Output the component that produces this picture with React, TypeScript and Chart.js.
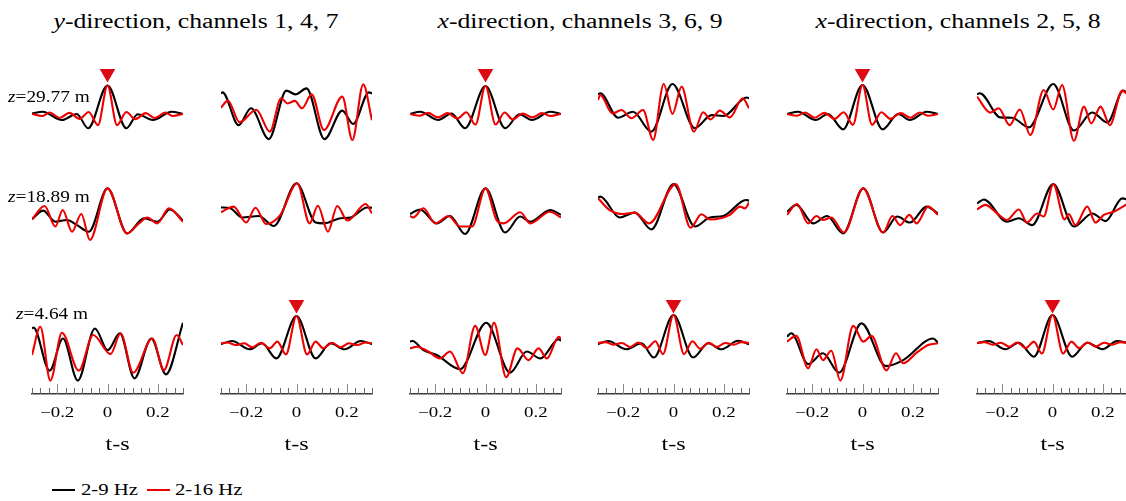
import React, { useEffect, useRef } from 'react';
import { Chart, registerables } from 'chart.js';

Chart.register(...registerables);

type P = [number, number];

// ---------- text ----------
const titleAxis = ['y', 'x', 'x'];
const titleRest = ['-direction, channels 1, 4, 7', '-direction, channels 3, 6, 9', '-direction, channels 2, 5, 8'];
const depthLabels = ['29.77', '18.89', '4.64'];
const legendLabels = ['2-9 Hz', '2-16 Hz'];
const xTitle = 't-s';
const xTickValues = [-0.3, -0.26667, -0.23333, -0.2, -0.16667, -0.13333, -0.1, -0.06667, -0.03333, 0, 0.03333, 0.06667, 0.1, 0.13333, 0.16667, 0.2, 0.23333, 0.26667, 0.3];
const xLabelValues = [-0.2, 0, 0.2];
const xLabelTexts = ['\u22120.2', '0', '0.2'];

// ---------- data: [t (s), amplitude] ----------
// row 1 (z = 29.77 m)
const r1c1Black: P[] = [[-0.3, 0.02], [-0.258, 0.08], [-0.181, -0.21], [-0.122, 0], [-0.077, -0.5], [0, 1.0], [0.075, -0.5], [0.12, -0.01], [0.18, -0.21], [0.255, 0.08], [0.3, 0]];
const r1c1Red: P[] = [[-0.3, 0], [-0.26, -0.07], [-0.23, 0.05], [-0.19, -0.14], [-0.152, 0.04], [-0.11, -0.17], [-0.075, 0.07], [-0.038, -0.39], [0, 1.0], [0.038, -0.39], [0.075, 0.07], [0.11, -0.18], [0.152, 0.03], [0.188, -0.14], [0.23, 0.05], [0.26, -0.07], [0.3, 0]];
const r1c2Black: P[] = [[-0.3, 0.72], [-0.294, 0.76], [-0.23, -0.39], [-0.181, 0.2], [-0.11, -0.88], [-0.04, 0.82], [-0.004, 0.69], [0.04, 0.9], [0.111, -0.88], [0.182, 0.12], [0.225, -0.35], [0.288, 0.76], [0.3, 0.72]];
const r1c2Red: P[] = [[-0.3, 0.22], [-0.273, 0.47], [-0.226, -0.29], [-0.16, 0.15], [-0.106, -0.62], [-0.061, 0.55], [-0.035, 0.37], [-0.007, 0.46], [0.022, 0.2], [0.06, 0.69], [0.109, -0.56], [0.182, 0.61], [0.222, -0.91], [0.265, 1.04], [0.3, -0.22]];
const r1c3Black: P[] = [[-0.3, 0], [-0.26, 0.08], [-0.187, -0.21], [-0.135, 0.02], [-0.081, -0.5], [0, 0.98], [0.078, -0.5], [0.135, -0.01], [0.184, -0.21], [0.257, 0.08], [0.3, 0]];
const r1c3Red: P[] = [[-0.3, 0], [-0.262, -0.06], [-0.228, 0.04], [-0.19, -0.12], [-0.15, 0.03], [-0.112, -0.16], [-0.076, 0.06], [-0.04, -0.37], [0, 0.98], [0.04, -0.37], [0.076, 0.05], [0.108, -0.19], [0.148, 0.02], [0.185, -0.12], [0.225, 0.03], [0.258, -0.07], [0.3, 0]];
const r1c4Black: P[] = [[-0.3, 0.69], [-0.291, 0.73], [-0.22, -0.13], [-0.161, 0.08], [-0.088, -0.62], [-0.004, 1.05], [0.085, -0.5], [0.151, -0.04], [0.198, -0.07], [0.291, 0.58], [0.3, 0.55]];
const r1c4Red: P[] = [[-0.3, 0.49], [-0.291, 0.67], [-0.243, 0.02], [-0.207, 0.14], [-0.167, -0.15], [-0.121, 0.14], [-0.081, -0.91], [-0.039, 1.05], [-0.004, 0], [0.032, 0.96], [0.081, -0.62], [0.118, 0.06], [0.147, -0.19], [0.184, 0.12], [0.224, -0.12], [0.275, 0.55], [0.3, 0.2]];
const r1c5Black: P[] = [[-0.3, 0], [-0.256, 0.08], [-0.186, -0.21], [-0.137, 0], [-0.077, -0.54], [0, 1.02], [0.08, -0.54], [0.142, 0], [0.188, -0.21], [0.255, 0.08], [0.3, 0]];
const r1c5Red: P[] = [[-0.3, 0], [-0.26, -0.06], [-0.228, 0.05], [-0.19, -0.13], [-0.152, 0.04], [-0.11, -0.17], [-0.075, 0.06], [-0.038, -0.38], [0, 1.02], [0.038, -0.38], [0.075, 0.06], [0.11, -0.17], [0.152, 0.03], [0.19, -0.13], [0.228, 0.05], [0.26, -0.06], [0.3, 0]];
const r1c6Black: P[] = [[-0.3, 0.69], [-0.289, 0.73], [-0.207, -0.12], [-0.161, -0.13], [-0.094, -0.47], [0.003, 1.05], [0.085, -0.58], [0.158, 0.05], [0.218, -0.3], [0.281, 0.82], [0.3, 0.73]];
const r1c6Red: P[] = [[-0.3, 0.61], [-0.247, 0.05], [-0.214, 0.2], [-0.17, -0.39], [-0.13, 0.16], [-0.088, -0.74], [-0.035, 0.84], [0.003, 0.16], [0.038, 1.02], [0.085, -0.94], [0.125, 0.26], [0.154, -0.33], [0.191, 0.26], [0.228, -0.39], [0.277, 0.82], [0.3, 0.66]];
// row 2 (z = 18.89 m)
const r2c1Black: P[] = [[-0.3, -0.11], [-0.256, 0.19], [-0.207, -0.2], [-0.161, -0.14], [-0.121, -0.32], [-0.074, -0.55], [0, 0.97], [0.078, -0.61], [0.145, -0.08], [0.198, -0.2], [0.248, 0.23], [0.3, -0.16]];
const r2c1Red: P[] = [[-0.3, -0.12], [-0.25, 0.35], [-0.207, -0.37], [-0.178, 0.21], [-0.141, -0.55], [-0.104, 0.07], [-0.07, -0.84], [0, 0.97], [0.078, -0.61], [0.125, -0.26], [0.158, -0.05], [0.198, -0.26], [0.244, 0.27], [0.3, -0.2]];
const r2c2Black: P[] = [[-0.3, 0.3], [-0.263, 0.27], [-0.216, -0.05], [-0.15, 0], [-0.09, -0.35], [0, 1.15], [0.076, -0.23], [0.109, -0.26], [0.175, -0.08], [0.215, -0.05], [0.281, 0.3], [0.3, 0.29]];
const r2c2Red: P[] = [[-0.3, 0.13], [-0.25, 0.33], [-0.2, -0.23], [-0.163, 0.29], [-0.121, -0.28], [-0.064, 0.04], [0.003, 1.15], [0.052, -0.26], [0.085, 0.36], [0.125, -0.55], [0.162, 0.35], [0.202, -0.16], [0.275, 0.42], [0.3, 0.09]];
const r2c3Black: P[] = [[-0.3, 0.07], [-0.26, 0.23], [-0.194, -0.26], [-0.141, 0], [-0.081, -0.63], [0, 0.97], [0.078, -0.58], [0.138, -0.02], [0.178, -0.2], [0.257, 0.21], [0.3, 0.04]];
const r2c3Red: P[] = [[-0.3, 0], [-0.287, -0.05], [-0.247, 0.27], [-0.2, -0.26], [-0.147, 0], [-0.101, -0.37], [-0.054, -0.37], [0, 0.97], [0.045, -0.16], [0.072, -0.26], [0.138, 0.13], [0.178, -0.26], [0.255, 0.15], [0.3, -0.05]];
const r2c4Black: P[] = [[-0.3, 0.65], [-0.291, 0.68], [-0.214, -0.05], [-0.154, 0.12], [-0.088, -0.47], [0, 1.12], [0.085, -0.37], [0.145, -0.05], [0.198, 0], [0.288, 0.56], [0.3, 0.54]];
const r2c4Red: P[] = [[-0.3, 0.62], [-0.254, 0.21], [-0.2, 0.07], [-0.154, 0.12], [-0.097, -0.26], [0.009, 1.12], [0.068, -0.41], [0.111, 0.06], [0.145, -0.12], [0.224, 0.04], [0.264, 0.33], [0.284, 0.27], [0.3, 0.47]];
const r2c5Black: P[] = [[-0.3, 0.15], [-0.263, 0.39], [-0.196, -0.26], [-0.141, 0], [-0.077, -0.61], [0.003, 0.97], [0.082, -0.58], [0.138, -0.02], [0.188, -0.23], [0.255, 0.33], [0.3, 0.09]];
const r2c5Red: P[] = [[-0.3, 0.04], [-0.26, 0.42], [-0.216, -0.26], [-0.183, 0], [-0.157, -0.14], [-0.124, -0.05], [-0.074, -0.58], [0.003, 0.97], [0.082, -0.58], [0.119, 0], [0.149, -0.32], [0.186, 0.04], [0.215, -0.26], [0.261, 0.33], [0.3, 0.04]];
const r2c6Black: P[] = [[-0.3, 0.44], [-0.273, 0.58], [-0.181, -0.2], [-0.134, -0.08], [-0.081, -0.32], [0.003, 1.12], [0.085, -0.37], [0.158, 0.09], [0.211, -0.18], [0.277, 0.62], [0.3, 0.56]];
const r2c6Red: P[] = [[-0.3, 0.23], [-0.267, 0.39], [-0.22, 0.09], [-0.181, -0.14], [-0.134, 0.23], [-0.101, -0.23], [-0.061, 0.09], [-0.035, -0.02], [0.003, 1.12], [0.048, -0.12], [0.065, 0.07], [0.091, -0.32], [0.138, 0.33], [0.171, -0.23], [0.204, 0.04], [0.244, 0.15], [0.3, 0.44]];
// row 3 (z = 4.64 m)
const r3c1Black: P[] = [[-0.3, 0.52], [-0.294, 0.54], [-0.23, -0.97], [-0.177, 0.16], [-0.118, -1.32], [-0.05, 0.51], [0.001, -0.25], [0.049, 0.34], [0.107, -1.24], [0.174, 0.16], [0.232, -1.1], [0.3, 0.71]];
const r3c1Red: P[] = [[-0.3, -0.42], [-0.267, 0.57], [-0.227, -1.32], [-0.181, 0.36], [-0.114, -0.97], [-0.057, 0.28], [0.012, -0.39], [0.052, 0.34], [0.102, -1.04], [0.178, 0.16], [0.224, -0.95], [0.275, 0.28], [0.3, -0.07]];
const r3c2Black: P[] = [[-0.3, -0.04], [-0.256, 0.07], [-0.186, -0.22], [-0.137, -0.01], [-0.08, -0.54], [0, 0.95], [0.076, -0.54], [0.135, -0.01], [0.191, -0.22], [0.255, 0.07], [0.3, -0.04]];
const r3c2Red: P[] = [[-0.3, -0.01], [-0.275, 0.02], [-0.241, -0.07], [-0.208, -0.01], [-0.175, -0.15], [-0.142, 0.01], [-0.106, -0.19], [-0.076, 0.05], [-0.042, -0.4], [0, 0.95], [0.042, -0.4], [0.076, 0.05], [0.106, -0.19], [0.142, 0.01], [0.175, -0.15], [0.208, -0.01], [0.241, -0.07], [0.275, 0.02], [0.3, -0.01]];
const r3c3Black: P[] = [[-0.3, 0.05], [-0.29, 0.07], [-0.247, -0.25], [-0.194, -0.42], [-0.101, -0.92], [0.003, 0.71], [0.098, -1.04], [0.164, -0.3], [0.218, -0.54], [0.291, 0.13], [0.3, 0.08]];
const r3c3Red: P[] = [[-0.3, -0.19], [-0.273, -0.13], [-0.227, -0.3], [-0.181, -0.54], [-0.141, -0.3], [-0.09, -1.06], [-0.041, 0.6], [-0.001, -0.42], [0.034, 0.71], [0.082, -1.2], [0.127, -0.19], [0.171, -0.6], [0.211, -0.19], [0.244, -0.54], [0.291, 0.22], [0.3, 0.16]];
const r3c4Black: P[] = [[-0.3, -0.04], [-0.26, 0.07], [-0.187, -0.22], [-0.127, -0.01], [-0.078, -0.51], [0, 0.98], [0.078, -0.51], [0.138, -0.01], [0.191, -0.22], [0.257, 0.08], [0.3, -0.04]];
const r3c4Red: P[] = [[-0.3, 0], [-0.27, 0.03], [-0.24, -0.06], [-0.205, 0], [-0.172, -0.14], [-0.14, 0.02], [-0.106, -0.18], [-0.072, 0.06], [-0.042, -0.39], [0, 0.98], [0.042, -0.39], [0.075, 0.06], [0.106, -0.2], [0.14, 0.01], [0.172, -0.14], [0.205, 0], [0.24, -0.06], [0.27, 0.03], [0.3, 0]];
const r3c5Black: P[] = [[-0.3, 0.22], [-0.283, 0.34], [-0.216, -0.74], [-0.157, -0.36], [-0.093, -1.04], [-0.004, 0.69], [0.093, -0.81], [0.162, -0.6], [0.281, 0.16], [0.3, 0.01]];
const r3c5Red: P[] = [[-0.3, 0.05], [-0.263, 0.25], [-0.216, -0.89], [-0.183, -0.22], [-0.157, -0.6], [-0.124, -0.27], [-0.088, -1.32], [-0.037, 0.6], [0.003, 0.05], [0.036, 0.25], [0.095, -0.96], [0.133, -0.36], [0.162, -0.71], [0.215, -0.34], [0.261, -0.07], [0.3, -0.01]];
const r3c6Black: P[] = [[-0.3, -0.01], [-0.254, 0.07], [-0.187, -0.22], [-0.134, 0.01], [-0.074, -0.48], [0, 0.98], [0.078, -0.48], [0.138, 0.01], [0.198, -0.22], [0.257, 0.07], [0.3, -0.01]];
const r3c6Red: P[] = [[-0.3, 0], [-0.27, 0.03], [-0.238, -0.06], [-0.205, 0.01], [-0.172, -0.13], [-0.14, 0.02], [-0.106, -0.18], [-0.074, 0.05], [-0.042, -0.37], [0, 0.98], [0.042, -0.37], [0.075, 0.05], [0.106, -0.18], [0.14, 0.02], [0.172, -0.13], [0.205, 0.01], [0.238, -0.06], [0.27, 0.03], [0.3, 0]];
// reference-channel markers (t, amplitude)
const markerTop: P[] = [[0, 1.42]];
const markerBottom: P[] = [[0, 1.35]];

// ---------- layout / style ----------
const FONT = '"Liberation Serif", "Times New Roman", serif';
const BLACK = '#000000';
const RED = '#ee0000';
const MARK = '#dd0a14';
const COL_LEFT = [32, 221, 410, 598, 787, 977];
const COL_TITLE_SHIFT = [10, 0, 0, 0, 0, 0];
const COL_W = 151;
const PADX = 6;
const TOP = 50;
const AXIS_Y = 394;
const AXIS_H = 67;
const TICK_LABEL_BASE = 417;
const X_TITLE_BASE = 450;
const ROW_BASE = [114, 216, 343];
const PX_PER_UNIT = 28.5;
const TITLE_STRETCH = 1.255;
const LABEL_STRETCH = 1.17;
const TICK_STRETCH = 1.3;
const XTITLE_STRETCH = 1.24;

interface ColumnDef {
  rows: { black: P[]; red: P[] }[];
  markerRow: number;
  marker: P[];
}

const columns: ColumnDef[] = [
  { rows: [{ black: r1c1Black, red: r1c1Red }, { black: r2c1Black, red: r2c1Red }, { black: r3c1Black, red: r3c1Red }], markerRow: 0, marker: markerTop },
  { rows: [{ black: r1c2Black, red: r1c2Red }, { black: r2c2Black, red: r2c2Red }, { black: r3c2Black, red: r3c2Red }], markerRow: 2, marker: markerBottom },
  { rows: [{ black: r1c3Black, red: r1c3Red }, { black: r2c3Black, red: r2c3Red }, { black: r3c3Black, red: r3c3Red }], markerRow: 0, marker: markerTop },
  { rows: [{ black: r1c4Black, red: r1c4Red }, { black: r2c4Black, red: r2c4Red }, { black: r3c4Black, red: r3c4Red }], markerRow: 2, marker: markerBottom },
  { rows: [{ black: r1c5Black, red: r1c5Red }, { black: r2c5Black, red: r2c5Red }, { black: r3c5Black, red: r3c5Red }], markerRow: 0, marker: markerTop },
  { rows: [{ black: r1c6Black, red: r1c6Red }, { black: r2c6Black, red: r2c6Red }, { black: r3c6Black, red: r3c6Red }], markerRow: 2, marker: markerBottom },
];

const toXY = (arr: P[]) => arr.map(([x, y]) => ({ x, y }));
const isMajor = (v: number) => xLabelValues.some((m) => Math.abs(m - v) < 1e-4);

// inward tick marks, tick labels and axis title, placed with the x scale
const innerTicks = {
  id: 'innerTicks',
  afterDraw(chart: any, _args: any, opts: any) {
    const s = chart.scales.x;
    const ctx = chart.ctx;
    const y0 = chart.chartArea.bottom;
    ctx.save();
    ctx.lineWidth = 1;
    s.ticks.forEach((t: any) => {
      const major = isMajor(t.value);
      const px = Math.round(s.getPixelForValue(t.value)) + 0.5;
      ctx.strokeStyle = major ? '#8a8a8a' : '#6a6a6a';
      ctx.beginPath();
      ctx.moveTo(px, y0);
      ctx.lineTo(px, y0 - (major ? 10 : 6));
      ctx.stroke();
    });
    ctx.fillStyle = '#000';
    ctx.textAlign = 'center';
    ctx.textBaseline = 'alphabetic';
    ctx.font = `14.5px ${FONT}`;
    xLabelValues.forEach((v, i) => {
      const px = s.getPixelForValue(v);
      ctx.save();
      ctx.translate(px, TICK_LABEL_BASE - TOP);
      ctx.scale(TICK_STRETCH, 1);
      ctx.fillText(xLabelTexts[i], 0, 0);
      ctx.restore();
    });
    ctx.font = `19.5px ${FONT}`;
    ctx.save();
    ctx.translate((s.left + s.right) / 2 + (opts.shift || 0), X_TITLE_BASE - TOP);
    ctx.scale(XTITLE_STRETCH, 1);
    ctx.fillText(xTitle, 0, 0);
    ctx.restore();
    ctx.restore();
  },
};

function ColumnChart({ col, left, shift }: { col: ColumnDef; left: number; shift: number }) {
  const ref = useRef<HTMLCanvasElement>(null);
  useEffect(() => {
    if (!ref.current) return;
    const datasets: any[] = [];
    col.rows.forEach((pair, r) => {
      datasets.push({
        data: toXY(pair.red), borderColor: RED, borderWidth: 2.1, pointRadius: 0,
        cubicInterpolationMode: 'monotone', yAxisID: 'y' + r, order: 1, fill: false,
      });
      datasets.push({
        data: toXY(pair.black), borderColor: BLACK, borderWidth: 2.1, pointRadius: 0,
        cubicInterpolationMode: 'monotone', yAxisID: 'y' + r, order: 2, fill: false,
      });
    });
    datasets.push({
      data: toXY(col.marker), yAxisID: 'y' + col.markerRow, showLine: false,
      pointStyle: 'triangle', rotation: 180, pointRadius: 9, backgroundColor: MARK,
      borderColor: MARK, borderWidth: 0, order: 0,
    });
    const scales: any = {
      x: {
        type: 'linear', min: -0.3, max: 0.3,
        afterBuildTicks: (s: any) => { s.ticks = xTickValues.map((v) => ({ value: v })); },
        afterFit: (s: any) => { s.height = AXIS_H; },
        grid: { display: true, drawOnChartArea: false, drawTicks: false },
        border: { display: true, color: '#3c3c3c', width: 1.5 },
        ticks: { display: false },
        title: { display: false, text: xTitle },
      },
    };
    ROW_BASE.forEach((b, r) => {
      scales['y' + r] = {
        type: 'linear', display: false,
        min: -(AXIS_Y - b) / PX_PER_UNIT, max: (b - TOP) / PX_PER_UNIT,
      };
    });
    const chart = new Chart(ref.current, {
      type: 'line',
      data: { datasets },
      options: {
        animation: false, responsive: false, events: [],
        layout: { autoPadding: false, padding: { left: PADX, right: PADX, top: 0, bottom: 0 } },
        plugins: { legend: { display: false }, tooltip: { enabled: false }, innerTicks: { shift } } as any,
        scales,
      },
      plugins: [innerTicks],
    });
    return () => chart.destroy();
  }, [col, shift]);
  const w = COL_W + 2 * PADX;
  const h = AXIS_Y - TOP + AXIS_H;
  return (
    <canvas ref={ref} width={w} height={h}
      style={{ position: 'absolute', left: left - PADX, top: TOP, width: w, height: h }} />
  );
}

const stretched = (k: number, origin: string): React.CSSProperties => ({
  transform: `scaleX(${k})`, transformOrigin: origin, whiteSpace: 'nowrap',
});

export default function App() {
  const titleCenters = [196, 580, 958];
  const depthPos = [{ left: 8, top: 89 }, { left: 8, top: 189 }, { left: 16, top: 306 }];
  return (
    <div style={{ position: 'absolute', left: 0, top: 0, width: 1126, height: 501, background: '#fff', overflow: 'hidden', fontFamily: FONT, color: '#000' }}>
      {titleAxis.map((a, i) => (
        <div key={'t' + i} style={{ position: 'absolute', left: titleCenters[i] - 300, width: 600, top: 11, fontSize: 20.5, lineHeight: '20.5px', textAlign: 'center', ...stretched(TITLE_STRETCH, '50% 50%') }}>
          <i>{a}</i>{titleRest[i]}
        </div>
      ))}
      {depthLabels.map((d, i) => (
        <div key={'z' + i} style={{ position: 'absolute', left: depthPos[i].left, top: depthPos[i].top, fontSize: 16.5, lineHeight: '16.5px', zIndex: 2, ...stretched(LABEL_STRETCH, '0 50%') }}>
          <i>z</i>={d} m
        </div>
      ))}
      {columns.map((c, i) => (
        <ColumnChart key={'c' + i} col={c} left={COL_LEFT[i]} shift={COL_TITLE_SHIFT[i]} />
      ))}
      <div style={{ position: 'absolute', left: 52, top: 489, width: 23, height: 2, background: BLACK }} />
      <div style={{ position: 'absolute', left: 81, top: 481, fontSize: 17, lineHeight: '17px', ...stretched(1.22, '0 50%') }}>{legendLabels[0]}</div>
      <div style={{ position: 'absolute', left: 147, top: 489, width: 23, height: 2, background: RED }} />
      <div style={{ position: 'absolute', left: 175, top: 481, fontSize: 17, lineHeight: '17px', ...stretched(1.22, '0 50%') }}>{legendLabels[1]}</div>
    </div>
  );
}
